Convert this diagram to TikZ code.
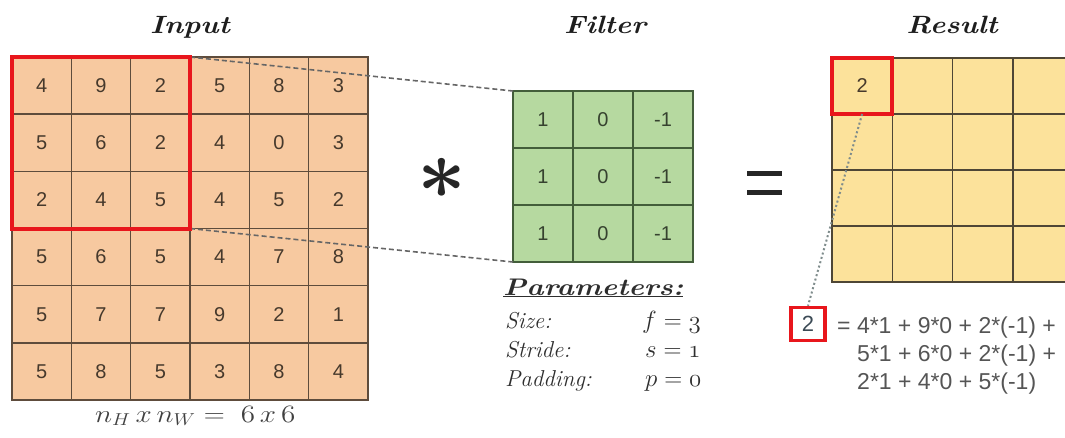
\documentclass[tikz,border=0pt]{standalone}
\usepackage{fontspec}
\usepackage{bm}
\usepackage{graphicx}
\newfontfamily\arialf{Liberation Sans}
\definecolor{infill}{HTML}{F7C9A0}
\definecolor{ingrid}{HTML}{5E4C3C}
\definecolor{intext}{HTML}{46392C}
\definecolor{ffill}{HTML}{B6D9A0}
\definecolor{fgrid}{HTML}{435E3A}
\definecolor{ftext}{HTML}{36422F}
\definecolor{rfill}{HTML}{FCE29B}
\definecolor{rgrid}{HTML}{4E4636}
\definecolor{hired}{HTML}{E8161C}
\definecolor{titlec}{HTML}{1E1E1E}
\definecolor{paramc}{HTML}{2E2E2E}
\definecolor{labelc}{HTML}{404040}
\definecolor{eqc}{HTML}{555555}
\definecolor{dashc}{HTML}{666666}
\definecolor{dotc}{HTML}{7F8C8C}
\definecolor{slatec}{HTML}{3B4A55}
\newcommand{\wid}[1]{\scalebox{1.17}[1]{#1}}
\begin{document}
\begin{tikzpicture}[x=1pt,y=-1pt,
  cellbase/.style={draw, line width=1.5pt, inner sep=0pt, outer sep=0pt, font=\arialf\fontsize{20}{20}\selectfont},
  incell/.style={cellbase, draw=ingrid, fill=infill, text=intext, minimum width=59.33pt, minimum height=57.17pt},
  fcell/.style={cellbase, draw=fgrid, fill=ffill, text=ftext, minimum width=60pt, minimum height=57pt},
  rcell/.style={cellbase, draw=rgrid, fill=rfill, text=intext, minimum width=60.25pt, minimum height=56pt},
  headtext/.style={font=\fontsize{25}{25}\selectfont\bfseries\itshape, text=titlec, inner sep=0pt, anchor=base},
  hilite/.style={draw=hired, line width=4pt},
  dashline/.style={draw=dashc, line width=1.6pt, dash pattern=on 5pt off 3pt},
  dotline/.style={draw=dotc, line width=2pt, dash pattern=on 2pt off 2.5pt},
  ptext/.style={font=\fontsize{23}{23}\selectfont\itshape, text=paramc, inner sep=0pt, anchor=base west},
  eqtext/.style={font=\arialf\fontsize{23}{23}\selectfont, text=eqc, inner sep=0pt, anchor=base west},
  eqbar/.style={draw=black!85, line width=5pt}
]
\useasboundingbox (0,0) rectangle (1065,437);
\clip (0,0) rectangle (1065,437);

% titles
\node[headtext] (tin) at (190,33) {\wid{Input}};
\node[headtext] (tf) at (605,33) {\wid{Filter}};
\node[headtext] (tr) at (952,33) {\wid{Result}};

% input grid
\foreach \row [count=\r] in {{4,9,2,5,8,3},{5,6,2,4,0,3},{2,4,5,4,5,2},{5,6,5,4,7,8},{5,7,7,9,2,1},{5,8,5,3,8,4}}{
  \foreach \v [count=\c] in \row {
    \node[incell] (i-\r-\c) at ({12+59.33*(\c-0.5)},{57+57.17*(\r-0.5)}) {\v};
  }
}

% filter grid
\foreach \r in {1,2,3}{
  \foreach \v [count=\c] in {1,0,-1}{
    \node[fcell] (f-\r-\c) at ({513+60*(\c-0.5)},{91+57*(\r-0.5)}) {\v};
  }
}

% result grid
\foreach \r in {1,...,4}{
  \foreach \c in {1,...,4}{
    \node[rcell] (r-\r-\c) at ({832+60.25*(\c-0.5)},{58+56*(\r-0.5)}) {};
  }
}
\node[font=\arialf\fontsize{20}{20}\selectfont, text=intext] at (r-1-1) {2};

% connectors
\draw[dashline] (i-1-3.north east) -- (f-1-1.north west);
\draw[dashline] (i-3-3.south east) -- (f-3-1.south west);

% highlight boxes
\draw[hilite] (i-1-1.north west) rectangle (i-3-3.south east);
\draw[hilite] (r-1-1.north west) rectangle (r-1-1.south east);

% operators
\node[inner sep=0pt, text=black!85] (star) at (442,178) {\scalebox{8.5}{$\bm{\ast}$}};
\coordinate (eqa) at (747,173);
\coordinate (eqb) at (782,173);
\coordinate (eqc) at (747,192);
\coordinate (eqd) at (782,192);
\draw[eqbar] (eqa) -- (eqb);
\draw[eqbar] (eqc) -- (eqd);

% parameters
\node[font=\fontsize{24}{24}\selectfont\bfseries\itshape, text=paramc, inner sep=0pt, anchor=base west] (ptitle) at (503,295) {\scalebox{1.22}[1]{\underline{Parameters:}}};
\node[ptext] (psize) at (505,328) {Size:};
\node[ptext] (pstride) at (505,357) {Stride:};
\node[ptext] (ppad) at (505,386) {Padding:};
\node[ptext] (vsize) at (642,328) {$f = \mathnormal{3}$};
\node[ptext] (vstride) at (645,357) {$s = \mathnormal{1}$};
\node[ptext] (vpad) at (645,386) {$p = \mathnormal{0}$};

% size label
\node[font=\fontsize{24}{24}\selectfont, text=labelc, inner sep=0pt, anchor=base west] (dims) at (95,422) {\wid{$n_H\,x\,n_W =\;\mathnormal{6}\,x\,\mathnormal{6}$}};

% result explanation
\node[draw=hired, line width=3.5pt, fill=white, minimum width=34pt, minimum height=33pt, inner sep=0pt, font=\arialf\fontsize{22}{22}\selectfont, text=slatec] (two) at (808,324) {2};
\draw[dotline] (r-1-1.south) -- (two.north);
\node[eqtext] (eq1) at (837,333) {= 4*1 + 9*0 + 2*(-1) +};
\node[eqtext] (eq2) at (857,361) {5*1 + 6*0 + 2*(-1) +};
\node[eqtext] (eq3) at (857,389) {2*1 + 4*0 + 5*(-1)};
\end{tikzpicture}
\end{document}
